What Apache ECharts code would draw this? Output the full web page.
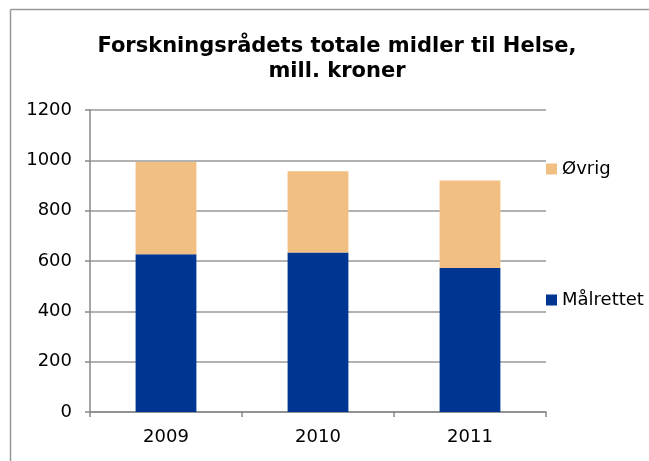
<!DOCTYPE html>
<html>
<head>
<meta charset="utf-8">
<script src="https://cdn.jsdelivr.net/npm/echarts@6/dist/echarts.min.js"></script>
<style>
  html, body { margin: 0; padding: 0; background: #fff; }
  #chart { width: 649px; height: 461px; }
</style>
</head>
<body>
<div id="chart"></div>
<script>
// data
const years = ['2009', '2010', '2011']
const malrettet = [627, 634, 572]
const ovrig = [366, 323, 348]
const yTicks = [0, 200, 400, 600, 800, 1000, 1200]

const myChart = echarts.init(document.getElementById('chart'))
const font = 'DejaVu Sans, Verdana, sans-serif'
const option = {
  backgroundColor: '#fff',
  animation: false,
  title: {
    text: 'Forskningsrådets totale midler til Helse,\nmill. kroner',
    left: 332,
    textAlign: 'center',
    top: 29,
    textStyle: {
      fontFamily: font,
      fontSize: 21,
      fontWeight: 'bold',
      color: '#000',
      lineHeight: 25
    }
  },
  graphic: [{
    type: 'line',
    shape: { x1: 10.5, y1: 9.5, x2: 660, y2: 9.5 },
    style: { stroke: '#999', lineWidth: 1.5 },
    silent: true
  }, {
    type: 'line',
    shape: { x1: 10.5, y1: 9.5, x2: 10.5, y2: 470 },
    style: { stroke: '#999', lineWidth: 1.5 },
    silent: true
  }],
  legend: {
    orient: 'vertical',
    left: 546,
    top: 160,
    padding: 0,
    itemWidth: 11,
    itemHeight: 11,
    itemGap: 113,
    icon: 'rect',
    data: ['Øvrig', 'Målrettet'],
    textStyle: { fontFamily: font, fontSize: 18, color: '#000' }
  },
  grid: {
    left: 90,
    right: 103,
    top: 110,
    bottom: 49
  },
  xAxis: {
    type: 'category',
    data: years,
    axisLine: { lineStyle: { color: '#888', width: 1.5 } },
    axisTick: { show: true, length: 5, alignWithLabel: false, lineStyle: { color: '#888', width: 1.5 } },
    axisLabel: { fontFamily: font, fontSize: 18, color: '#000', margin: 16 }
  },
  yAxis: {
    type: 'value',
    min: yTicks[0],
    max: yTicks[yTicks.length - 1],
    interval: 200,
    axisLine: { show: true, lineStyle: { color: '#888', width: 1.5 } },
    axisTick: { show: true, length: 5, lineStyle: { color: '#888', width: 1.5 } },
    splitLine: { lineStyle: { color: '#999', width: 1.5 } },
    axisLabel: {
      fontFamily: font,
      fontSize: 18,
      color: '#000',
      margin: 18,
      formatter: function(v) { return String(v) }
    }
  },
  series: [
    {
      name: 'Målrettet',
      type: 'bar',
      stack: 'total',
      barWidth: '40%',
      itemStyle: { color: '#003591' },
      data: malrettet
    },
    {
      name: 'Øvrig',
      type: 'bar',
      stack: 'total',
      barWidth: '40%',
      itemStyle: { color: '#F2BF82' },
      data: ovrig
    }
  ]
}
myChart.setOption(option)
</script>
</body>
</html>
